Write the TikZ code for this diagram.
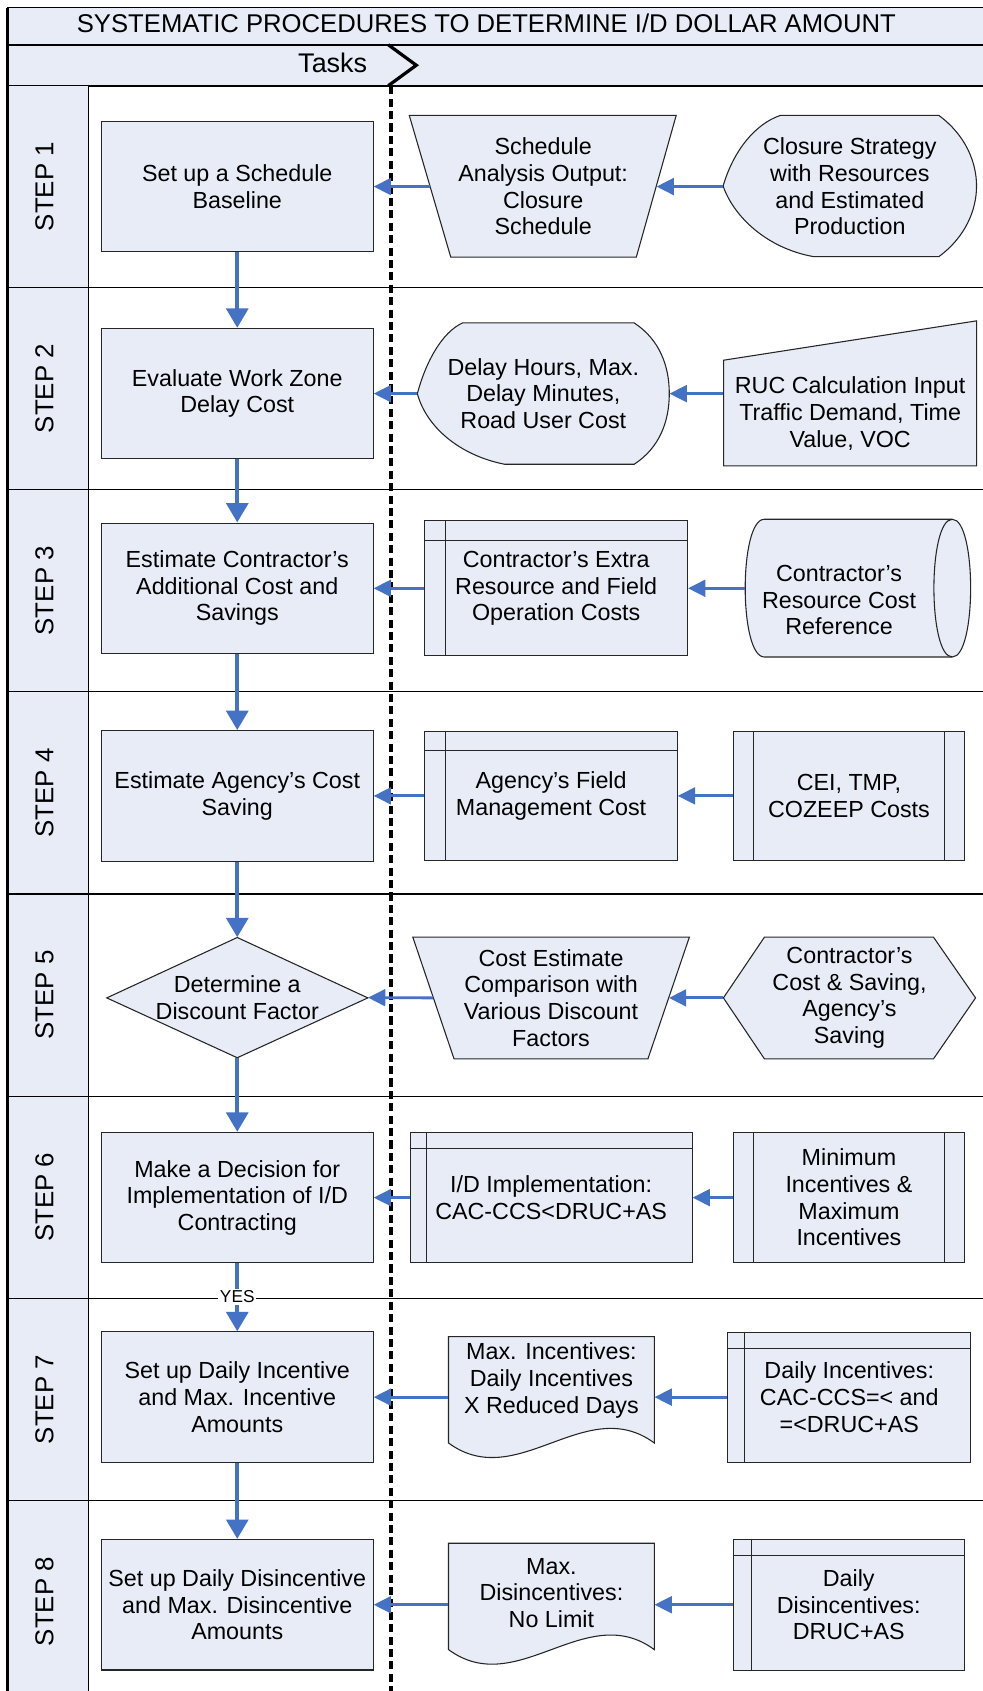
\documentclass[tikz,border=0pt]{standalone}
\usepackage{fontspec}
\setmainfont{Liberation Sans}
\usetikzlibrary{arrows.meta}
\definecolor{boxfill}{RGB}{231,236,247}
\definecolor{arrowblue}{RGB}{68,114,196}
\begin{document}
\begin{tikzpicture}[x=1pt,y=-1pt,
  shp/.style={draw=black!85, fill=boxfill, line width=1pt},
  txt/.style={align=center, font=\fontsize{21.6}{24.7}\selectfont, inner sep=0pt},
  mainbox/.style={shp, txt, minimum width=252pt, minimum height=121pt},
  steplbl/.style={rotate=90, font=\fontsize{24}{28}\selectfont, inner sep=0pt},
  harrow/.style={draw=arrowblue, line width=2.6pt, -{Triangle[length=16pt,width=15.5pt]}},
  varrow/.style={draw=arrowblue, line width=4pt, -{Triangle[length=18pt,width=20pt]}},
  inner/.style={draw=black!85, line width=1pt}
]
\useasboundingbox (0,0) rectangle (911,1568);
\fill[white] (0,0) rectangle (911,1568);

% header rows
\draw[fill=boxfill, line width=1.5pt] (7,7) rectangle (925,41.5);
\draw[fill=boxfill, line width=1.5pt] (7,41.5) rectangle (925,79.5);
\node[font=\fontsize{23.8}{28}\selectfont, inner sep=0pt] (title) at (451,21.7) {SYSTEMATIC PROCEDURES TO DETERMINE I/D DOLLAR AMOUNT};
\node[font=\fontsize{25}{30}\selectfont, inner sep=0pt] (tasks) at (308.5,58.5) {Tasks};

% step column and row lines
\fill[boxfill] (7,79.5) rectangle (82,1580);
\foreach \yy in {266.5,454,641.5,829,1016.5,1204,1391.5}
  \draw[line width=1.2pt] (7,\yy) -- (925,\yy);
\draw[line width=1.2pt] (82,79.5) -- (82,1580);
\draw[line width=2pt] (7,7) -- (7,1580);

\node[steplbl] (st1) at (41.2,173) {STEP 1};
\node[steplbl] (st2) at (41.2,360.25) {STEP 2};
\node[steplbl] (st3) at (41.2,547.75) {STEP 3};
\node[steplbl] (st4) at (41.2,735.25) {STEP 4};
\node[steplbl] (st5) at (41.2,922.75) {STEP 5};
\node[steplbl] (st6) at (41.2,1110.25) {STEP 6};
\node[steplbl] (st7) at (41.2,1297.75) {STEP 7};
\node[steplbl] (st8) at (41.2,1485) {STEP 8};

% divider
\draw[line width=4pt, dash pattern=on 7.5pt off 4pt] (362.5,80) -- (362.5,1580);
\draw[line width=3pt] (360,41.5) -- (386,60.5) -- (360,79.5);

% ---------- main column
\node[mainbox] (b1) at (220,173) {Set up a Schedule\\Baseline};
\node[mainbox] (b2) at (220,365) {Evaluate Work Zone\\Delay Cost};
\node[mainbox] (b3) at (220,545.5) {Estimate Contractor’s\\Additional Cost and\\Savings};
\node[mainbox] (b4) at (220,738) {Estimate Agency’s Cost\\Saving};
\draw[shp] (99,925.3) -- (220,869.3) -- (341.1,925.3) -- (220,980.8) -- cycle;
\node[txt, minimum width=242.1pt, minimum height=111.5pt] (b5) at (220,925.05) {Determine a\\Discount Factor};
\node[mainbox] (b6) at (220,1110.5) {Make a Decision for\\Implementation of I/D\\Contracting};
\node[mainbox] (b7) at (220,1295.5) {Set up Daily Incentive\\and Max. Incentive\\Amounts};
\node[mainbox] (b8) at (220,1488) {Set up Daily Disincentive\\and Max. Disincentive\\Amounts};

% ---------- step 1
\draw[shp] (379.5,107) -- (627,107) -- (590,238.5) -- (418,238.5) -- cycle;
\node[txt, minimum width=209.9pt, minimum height=131.5pt] (t1) at (503.65,173) {Schedule\\Analysis Output:\\Closure\\Schedule};
\draw[shp] (723.6,107) -- (870.5,107) .. controls (895,125) and (905.5,150) .. (905.5,172.5)
  .. controls (905.5,195) and (895,220) .. (870.5,238) -- (754.5,238)
  .. controls (710,230) and (680,200) .. (670.5,172.5)
  .. controls (680,140) and (700,115) .. (723.6,107) -- cycle;
\node[txt, minimum width=235pt] (d1) at (788,173) {Closure Strategy\\with Resources\\and Estimated\\Production};

% ---------- step 2
\draw[shp] (429,299.4) -- (588,299.4) .. controls (612,315) and (620.6,340) .. (620.6,365)
  .. controls (620.6,390) and (612,415) .. (588,430.5) -- (468,430.5)
  .. controls (425,422) and (395,395) .. (387,365)
  .. controls (395,335) and (410,308) .. (429,299.4) -- cycle;
\node[txt, minimum width=233.6pt] (d2) at (503.8,365) {Delay Hours, Max.\\Delay Minutes,\\Road User Cost};
\draw[shp] (671,334) -- (905.6,297.5) -- (905.6,432) -- (671,432) -- cycle;
\node[txt, minimum width=234.6pt] (m2) at (788.3,383.4) {RUC Calculation Input\\Traffic Demand, Time\\Value, VOC};

% ---------- step 3
\node[shp, txt, minimum width=243.5pt, minimum height=125pt] (i3) at (515.75,545.5) {Contractor’s Extra\\Resource and Field\\Operation Costs};
\draw[inner] ([xshift=20pt]i3.north west) -- ([xshift=20pt]i3.south west);
\draw[inner] ([yshift=-18.6pt]i3.north west) -- ([yshift=-18.6pt]i3.north east);
\draw[shp] (708.7,481.5) -- (883,481.5) .. controls (905.7,481.5) and (905.7,609.2) .. (883,609.2)
  -- (708.7,609.2) .. controls (685.1,609.2) and (685.1,481.5) .. (708.7,481.5) -- cycle;
\draw[inner] (883,481.5) .. controls (860.3,481.5) and (860.3,609.2) .. (883,609.2);
\node[txt, minimum width=174pt] (c3) at (778,556.6) {Contractor’s\\Resource Cost\\Reference};

% ---------- step 4
\node[shp, txt, minimum width=234pt, minimum height=120pt] (i4) at (511,738) {Agency’s Field\\Management Cost};
\draw[inner] ([xshift=20pt]i4.north west) -- ([xshift=20pt]i4.south west);
\draw[inner] ([yshift=-18.4pt]i4.north west) -- ([yshift=-18.4pt]i4.north east);
\node[shp, txt, minimum width=214.4pt, minimum height=119pt] (p4) at (787.2,738) {CEI, TMP,\\COZEEP Costs};
\draw[inner] ([xshift=19.6pt]p4.north west) -- ([xshift=19.6pt]p4.south west);
\draw[inner] ([xshift=-19.4pt]p4.north east) -- ([xshift=-19.4pt]p4.south east);

% ---------- step 5
\draw[shp] (382.8,869) -- (639.2,869) -- (600.8,981.8) -- (421,981.8) -- cycle;
\node[txt, minimum width=218.3pt] (t5) at (510.95,925.3) {Cost Estimate\\Comparison with\\Various Discount\\Factors};
\draw[shp] (670.8,925.3) -- (708.8,869) -- (865.6,869) -- (904.6,925.3) -- (865.6,981.8) -- (708.8,981.8) -- cycle;
\node[txt, minimum width=233.8pt] (h5) at (787.7,925.3) {Contractor’s\\Cost \& Saving,\\Agency’s\\Saving};

% ---------- step 6
\node[shp, txt, minimum width=261.3pt, minimum height=120.5pt] (i6) at (511.05,1110.5) {I/D Implementation:\\CAC-CCS<DRUC+AS};
\draw[inner] ([xshift=15.9pt]i6.north west) -- ([xshift=15.9pt]i6.south west);
\draw[inner] ([yshift=-14.9pt]i6.north west) -- ([yshift=-14.9pt]i6.north east);
\node[shp, txt, minimum width=214.4pt, minimum height=120pt] (p6) at (787.2,1110.5) {Minimum\\Incentives \&\\Maximum\\Incentives};
\draw[inner] ([xshift=19.6pt]p6.north west) -- ([xshift=19.6pt]p6.south west);
\draw[inner] ([xshift=-19.4pt]p6.north east) -- ([xshift=-19.4pt]p6.south east);

% ---------- step 7
\draw[shp] (415.9,1239.4) -- (606.7,1239.4) -- (606.7,1338)
  .. controls (543.1,1291.2) and (479.5,1384.8) .. (415.9,1338) -- cycle;
\node[txt, minimum width=190.8pt] (doc7) at (511.3,1280) {Max. Incentives:\\Daily Incentives\\X Reduced Days};
\node[shp, txt, minimum width=225pt, minimum height=120.6pt] (i7) at (787.5,1295.5) {Daily Incentives:\\CAC-CCS=< and\\=<DRUC+AS};
\draw[inner] ([xshift=16pt]i7.north west) -- ([xshift=16pt]i7.south west);
\draw[inner] ([yshift=-15.6pt]i7.north west) -- ([yshift=-15.6pt]i7.north east);

% ---------- step 8
\draw[shp] (415.9,1431) -- (606.7,1431) -- (606.7,1529.6)
  .. controls (543.1,1482.8) and (479.5,1576.4) .. (415.9,1529.6) -- cycle;
\node[txt, minimum width=190.8pt] (doc8) at (511.3,1477) {Max.\\Disincentives:\\No Limit};
\node[shp, txt, minimum width=214pt, minimum height=121.7pt] (i8) at (787,1488) {Daily\\Disincentives:\\DRUC+AS};
\draw[inner] ([xshift=17.4pt]i8.north west) -- ([xshift=17.4pt]i8.south west);
\draw[inner] ([yshift=-15.6pt]i8.north west) -- ([yshift=-15.6pt]i8.north east);

% ---------- horizontal connectors
\draw[harrow] (d1.west) -- (t1.east);
\draw[harrow] (t1.west) -- (b1.east);
\draw[harrow] (m2.west |- d2.east) -- (d2.east);
\draw[harrow] (d2.west) -- (b2.east);
\draw[harrow] (c3.west |- i3.east) -- (i3.east);
\draw[harrow] (i3.west) -- (b3.east);
\draw[harrow] (p4.west) -- (i4.east);
\draw[harrow] (i4.west) -- (b4.east);
\draw[harrow] (h5.west) -- (t5.east);
\draw[harrow] (t5.west) -- (b5.east);
\draw[harrow] (p6.west) -- (i6.east);
\draw[harrow] (i6.west) -- (b6.east);
\draw[harrow] (i7.west) -- (i7.west -| doc7.east);
\draw[harrow] (doc7.west |- b7.east) -- (b7.east);
\draw[harrow] (i8.west) -- (i8.west -| doc8.east);
\draw[harrow] (doc8.west |- b8.east) -- (b8.east);

% ---------- vertical connectors
\draw[varrow] (b1.south) -- (b2.north);
\draw[varrow] (b2.south) -- (b3.north);
\draw[varrow] (b3.south) -- (b4.north);
\draw[varrow] (b4.south) -- (b5.north);
\draw[varrow] (b5.south) -- (b6.north);
\draw[varrow] (b6.south) -- (b7.north);
\node[fill=white, inner sep=1.5pt, font=\fontsize{16}{19}\selectfont] (yes) at (220,1202.5) {YES};
\draw[varrow] (b7.south) -- (b8.north);
\end{tikzpicture}
\end{document}
